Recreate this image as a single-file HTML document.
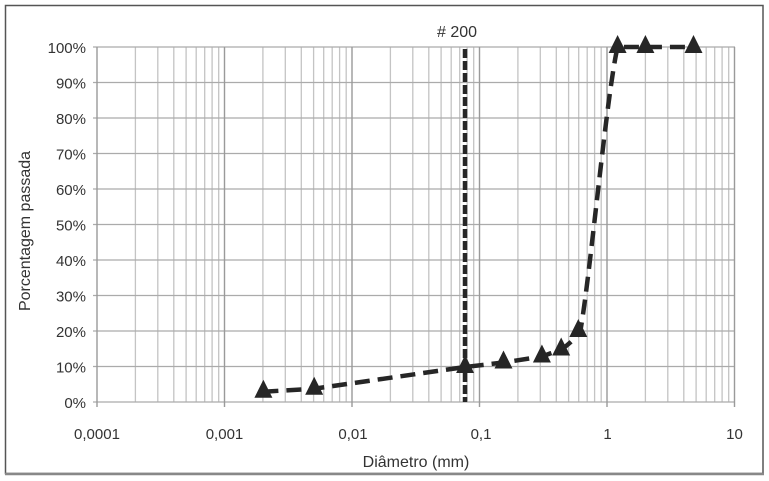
<!DOCTYPE html>
<html><head><meta charset="utf-8"><style>
html,body{margin:0;padding:0;background:#fff;}
svg{display:block;}
text{font-family:"Liberation Sans",Arial,sans-serif;fill:#333;}
</style></head><body>
<svg width="769" height="481" viewBox="0 0 769 481" xmlns="http://www.w3.org/2000/svg">
<rect x="0" y="0" width="769" height="481" fill="#fff"/>
<!-- outer border -->
<rect x="5.5" y="5.5" width="757.5" height="468" fill="none" stroke="#555" stroke-width="1.5"/>
<line x1="5" y1="474" x2="764" y2="474" stroke="#888" stroke-width="2.5"/>

<!-- minor vertical grid -->
<g stroke="#c4c4c4" stroke-width="1.3">
<line x1="135.4" y1="47" x2="135.4" y2="402"/><line x1="157.8" y1="47" x2="157.8" y2="402"/><line x1="173.8" y1="47" x2="173.8" y2="402"/><line x1="186.1" y1="47" x2="186.1" y2="402"/><line x1="196.2" y1="47" x2="196.2" y2="402"/><line x1="204.7" y1="47" x2="204.7" y2="402"/><line x1="212.1" y1="47" x2="212.1" y2="402"/><line x1="218.7" y1="47" x2="218.7" y2="402"/>
<line x1="262.9" y1="47" x2="262.9" y2="402"/><line x1="285.3" y1="47" x2="285.3" y2="402"/><line x1="301.3" y1="47" x2="301.3" y2="402"/><line x1="313.6" y1="47" x2="313.6" y2="402"/><line x1="323.7" y1="47" x2="323.7" y2="402"/><line x1="332.2" y1="47" x2="332.2" y2="402"/><line x1="339.6" y1="47" x2="339.6" y2="402"/><line x1="346.2" y1="47" x2="346.2" y2="402"/>
<line x1="390.4" y1="47" x2="390.4" y2="402"/><line x1="412.8" y1="47" x2="412.8" y2="402"/><line x1="428.8" y1="47" x2="428.8" y2="402"/><line x1="441.1" y1="47" x2="441.1" y2="402"/><line x1="451.2" y1="47" x2="451.2" y2="402"/><line x1="459.7" y1="47" x2="459.7" y2="402"/><line x1="467.1" y1="47" x2="467.1" y2="402"/><line x1="473.7" y1="47" x2="473.7" y2="402"/>
<line x1="517.9" y1="47" x2="517.9" y2="402"/><line x1="540.3" y1="47" x2="540.3" y2="402"/><line x1="556.3" y1="47" x2="556.3" y2="402"/><line x1="568.6" y1="47" x2="568.6" y2="402"/><line x1="578.7" y1="47" x2="578.7" y2="402"/><line x1="587.2" y1="47" x2="587.2" y2="402"/><line x1="594.6" y1="47" x2="594.6" y2="402"/><line x1="601.2" y1="47" x2="601.2" y2="402"/>
<line x1="645.4" y1="47" x2="645.4" y2="402"/><line x1="667.8" y1="47" x2="667.8" y2="402"/><line x1="683.8" y1="47" x2="683.8" y2="402"/><line x1="696.1" y1="47" x2="696.1" y2="402"/><line x1="706.2" y1="47" x2="706.2" y2="402"/><line x1="714.7" y1="47" x2="714.7" y2="402"/><line x1="722.1" y1="47" x2="722.1" y2="402"/><line x1="728.7" y1="47" x2="728.7" y2="402"/>
</g>
<!-- horizontal grid -->
<g stroke="#ababab" stroke-width="1.3">
<line x1="93" y1="47" x2="735" y2="47"/><line x1="93" y1="82.5" x2="735" y2="82.5"/><line x1="93" y1="118" x2="735" y2="118"/><line x1="93" y1="153.5" x2="735" y2="153.5"/><line x1="93" y1="189" x2="735" y2="189"/><line x1="93" y1="224.5" x2="735" y2="224.5"/><line x1="93" y1="260" x2="735" y2="260"/><line x1="93" y1="295.5" x2="735" y2="295.5"/><line x1="93" y1="331" x2="735" y2="331"/><line x1="93" y1="366.5" x2="735" y2="366.5"/><line x1="93" y1="402" x2="735" y2="402"/>
</g>
<!-- major vertical -->
<g stroke="#9a9a9a" stroke-width="1.4">
<line x1="97" y1="47" x2="97" y2="407"/><line x1="224.5" y1="47" x2="224.5" y2="407"/><line x1="352" y1="47" x2="352" y2="407"/><line x1="479.5" y1="47" x2="479.5" y2="407"/><line x1="607" y1="47" x2="607" y2="407"/><line x1="734.5" y1="47" x2="734.5" y2="407"/>
</g>

<!-- #200 line -->
<line x1="465" y1="49" x2="465" y2="402" stroke="#262626" stroke-width="4.5" stroke-dasharray="9 3"/>
<text x="457" y="37" font-size="16" text-anchor="middle"># 200</text>

<!-- data line -->
<path d="M263.4,391.7 L314.2,388.7 L465.1,367 L503.5,362.5 L541.9,356.5 L561.2,349.5 C567.6,345.3 576,338 580.3,331 C589.7,280.6 606.5,94.3 617.6,47 L694.8,47" fill="none" stroke="#262626" stroke-width="4.5" stroke-dasharray="15 8"/>

<!-- markers -->
<g fill="#262626">
<polygon points="263.4,379.7 272.4,397.7 254.4,397.7"/>
<polygon points="314.2,376.7 323.2,394.7 305.2,394.7"/>
<polygon points="465.1,355 474.1,373 456.1,373"/>
<polygon points="503.5,350.5 512.5,368.5 494.5,368.5"/>
<polygon points="541.9,344.5 550.9,362.5 532.9,362.5"/>
<polygon points="561.2,337.5 570.2,355.5 552.2,355.5"/>
<polygon points="578.3,319 587.3,337 569.3,337"/>
<polygon points="617.6,35 626.6,53 608.6,53"/>
<polygon points="645.4,35 654.4,53 636.4,53"/>
<polygon points="693.5,35 702.5,53 684.5,53"/>
</g>

<!-- y tick labels -->
<g font-size="15" text-anchor="end">
<text x="86" y="53">100%</text><text x="86" y="88.5">90%</text><text x="86" y="124">80%</text><text x="86" y="159.5">70%</text><text x="86" y="195">60%</text><text x="86" y="230.5">50%</text><text x="86" y="266">40%</text><text x="86" y="301.5">30%</text><text x="86" y="337">20%</text><text x="86" y="372.5">10%</text><text x="86" y="408">0%</text>
</g>
<!-- x tick labels -->
<g font-size="15" text-anchor="middle">
<text x="97" y="439">0,0001</text><text x="224.5" y="439">0,001</text><text x="353" y="439">0,01</text><text x="481" y="439">0,1</text><text x="607.5" y="439">1</text><text x="734.5" y="439">10</text>
</g>
<text x="416" y="467" font-size="16" text-anchor="middle">Diâmetro (mm)</text>
<text transform="translate(30,231) rotate(-90)" font-size="16" text-anchor="middle">Porcentagem passada</text>
</svg>
</body></html>
